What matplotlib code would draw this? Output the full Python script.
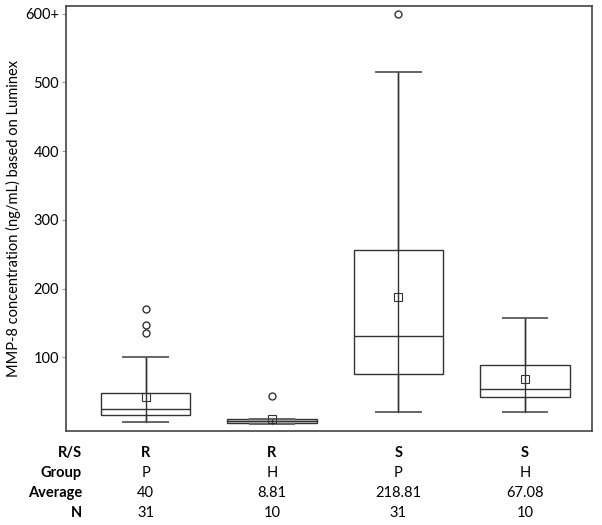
import matplotlib
matplotlib.use("Agg")
import matplotlib.pyplot as plt
import matplotlib.transforms as mtransforms

plt.rcParams["font.family"] = ["Lato", "DejaVu Sans"]

# box statistics (ng/mL)
rs_labels = ["R", "R", "S", "S"]
group_labels = ["P", "H", "P", "H"]
averages = ["40", "8.81", "218.81", "67.08"]
counts = ["31", "10", "31", "10"]

q1 = [16, 4, 76, 42]
med = [25, 7, 131, 54]
q3 = [49, 10, 256, 89]
whislo = [6, 3, 20, 20]
whishi = [100, 11, 515, 157]
means = [42, 11, 188, 68]
fliers = [[135, 147, 170], [44], [600], []]

ytick_vals = [100, 200, 300, 400, 500, 600]
ytick_labels = ["100", "200", "300", "400", "500", "600+"]

positions = [1, 2, 3, 4]
stats = []
for i in range(4):
    stats.append({
        "q1": q1[i], "med": med[i], "q3": q3[i],
        "whislo": whislo[i], "whishi": whishi[i],
        "mean": means[i], "fliers": fliers[i],
    })

line_c = "#333333"
fig = plt.figure(figsize=(6.02, 5.25), dpi=100)
ax = fig.add_axes([0.1096, 0.179, 0.8734, 0.8096])

ax.bxp(
    stats,
    positions=positions,
    widths=0.71,
    showmeans=True,
    patch_artist=True,
    boxprops=dict(edgecolor=line_c, facecolor="white", linewidth=1.0),
    medianprops=dict(color=line_c, linewidth=1.0),
    whiskerprops=dict(color=line_c, linewidth=1.0),
    capprops=dict(color="#666666", linewidth=1.4),
    capwidths=0.35,
    meanprops=dict(marker="s", markerfacecolor="none", markeredgecolor=line_c,
                   markersize=6, markeredgewidth=0.8),
    flierprops=dict(marker="o", markerfacecolor="none", markeredgecolor=line_c,
                    markersize=5, markeredgewidth=1.0),
)
# second box looks filled light gray in the original
ax.patches[1].set_facecolor("#dddddd")

# whisker line runs straight through each box
ax.vlines(positions, whislo, whishi, color=line_c, linewidth=1.0, zorder=2.5)

ax.set_xlim(0.37, 4.53)
ax.set_ylim(-7, 611)
ax.set_xticks([])
ax.set_yticks(ytick_vals)
ax.set_yticklabels(ytick_labels, fontsize=10.5)
ax.tick_params(axis="y", length=3, color="#999999", pad=2)
for s in ax.spines.values():
    s.set_color("#444444")
    s.set_linewidth(1.2)

ax.set_ylabel("MMP-8 concentration (ng/mL) based on Luminex", fontsize=10.5, labelpad=3)

# table under the chart
trans = mtransforms.blended_transform_factory(ax.transData, fig.transFigure)
rows = [("R/S", rs_labels, True), ("Group", group_labels, False),
        ("Average", averages, False), ("N", counts, False)]
row_y = [453, 473, 493, 513]
for (name, vals, bold), y in zip(rows, row_y):
    fy = 1 - y / 525
    fig.text(82 / 602, fy, name, ha="right", va="center", fontsize=10.5, fontweight="bold")
    for i, v in enumerate(vals):
        ax.text(positions[i], fy, v, transform=trans, ha="center", va="center", fontsize=10.5,
                fontweight="bold" if bold else "normal", clip_on=False)

fig.savefig("out.png", dpi=100)
